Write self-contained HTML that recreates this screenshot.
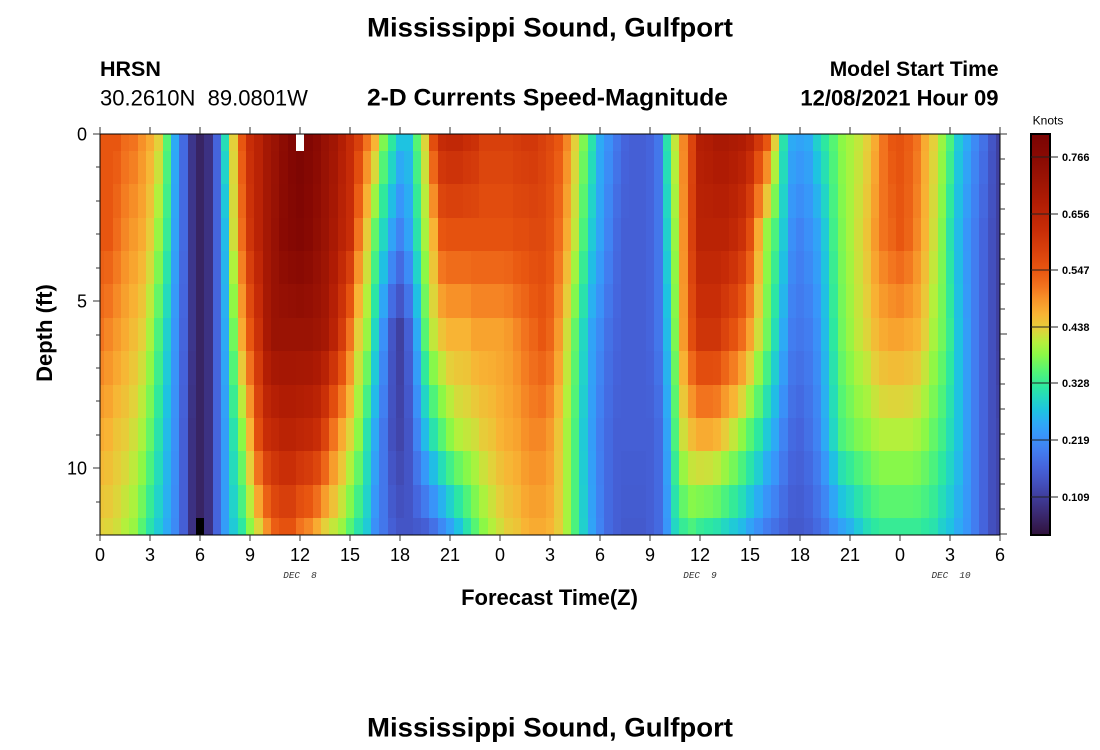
<!DOCTYPE html>
<html>
<head>
<meta charset="utf-8">
<style>
html,body{margin:0;padding:0;background:#fff;}
body{width:1100px;height:750px;overflow:hidden;}
svg{display:block;}
.s{font-family:"Liberation Sans",Arial,sans-serif;fill:#000;}
.b{font-weight:bold;}
.m{font-family:"Liberation Mono","Courier New",monospace;font-style:italic;fill:#333;}
</style>
</head>
<body>
<svg id="svg" width="1100" height="750" viewBox="0 0 1100 750" xmlns="http://www.w3.org/2000/svg">
<defs>
<linearGradient id="cb" x1="0" y1="1" x2="0" y2="0">
<stop offset="0" stop-color="rgb(48,18,59)"/>
<stop offset="0.05" stop-color="rgb(58,40,110)"/>
<stop offset="0.09" stop-color="rgb(62,58,150)"/>
<stop offset="0.13" stop-color="rgb(67,80,190)"/>
<stop offset="0.17" stop-color="rgb(69,100,220)"/>
<stop offset="0.21" stop-color="rgb(66,125,240)"/>
<stop offset="0.25" stop-color="rgb(56,150,250)"/>
<stop offset="0.28" stop-color="rgb(45,170,245)"/>
<stop offset="0.31" stop-color="rgb(30,195,225)"/>
<stop offset="0.34" stop-color="rgb(35,215,195)"/>
<stop offset="0.37" stop-color="rgb(45,232,160)"/>
<stop offset="0.41" stop-color="rgb(85,245,115)"/>
<stop offset="0.45" stop-color="rgb(140,248,70)"/>
<stop offset="0.48" stop-color="rgb(180,240,60)"/>
<stop offset="0.515" stop-color="rgb(228,208,58)"/>
<stop offset="0.55" stop-color="rgb(248,180,52)"/>
<stop offset="0.59" stop-color="rgb(247,145,40)"/>
<stop offset="0.62" stop-color="rgb(242,115,30)"/>
<stop offset="0.66" stop-color="rgb(232,86,16)"/>
<stop offset="0.71" stop-color="rgb(216,64,12)"/>
<stop offset="0.76" stop-color="rgb(200,45,7)"/>
<stop offset="0.83" stop-color="rgb(176,28,4)"/>
<stop offset="0.89" stop-color="rgb(154,19,4)"/>
<stop offset="0.94" stop-color="rgb(138,10,3)"/>
<stop offset="1" stop-color="rgb(122,4,3)"/>
</linearGradient>
</defs>

<!-- titles -->
<text class="s b" x="550" y="36.5" text-anchor="middle" font-size="27" textLength="366" lengthAdjust="spacingAndGlyphs">Mississippi Sound, Gulfport</text>
<text class="s b" x="100" y="76" font-size="21.5">HRSN</text>
<text class="s" x="100" y="105.5" font-size="22" xml:space="preserve">30.2610N  89.0801W</text>
<text class="s b" x="367" y="105.5" font-size="24.5" textLength="361" lengthAdjust="spacingAndGlyphs">2-D Currents Speed-Magnitude</text>
<text class="s b" x="998.5" y="76" text-anchor="end" font-size="21">Model Start Time</text>
<text class="s b" x="998.5" y="105.5" text-anchor="end" font-size="22">12/08/2021 Hour 09</text>

<!-- heatmap -->
<g id="hm" shape-rendering="crispEdges"></g>
<rect x="296" y="134" width="8" height="17" fill="#fff" shape-rendering="crispEdges"/>
<rect x="196" y="518" width="8" height="17" fill="#000" shape-rendering="crispEdges"/>

<!-- frame -->
<rect x="100" y="134" width="900" height="401" fill="none" stroke="#000" stroke-width="1.2" shape-rendering="crispEdges"/>
<g id="ticks" stroke="#333" stroke-width="1.2" shape-rendering="crispEdges"></g>

<!-- y axis labels -->
<text class="s" x="87" y="140.5" text-anchor="end" font-size="18">0</text>
<text class="s" x="87" y="307.5" text-anchor="end" font-size="18">5</text>
<text class="s" x="87" y="474.5" text-anchor="end" font-size="18">10</text>
<text class="s b" transform="translate(52,333) rotate(-90)" text-anchor="middle" font-size="22">Depth (ft)</text>

<!-- x axis labels -->
<g class="s" font-size="18" text-anchor="middle">
<text x="100" y="561">0</text>
<text x="150" y="561">3</text>
<text x="200" y="561">6</text>
<text x="250" y="561">9</text>
<text x="300" y="561">12</text>
<text x="350" y="561">15</text>
<text x="400" y="561">18</text>
<text x="450" y="561">21</text>
<text x="500" y="561">0</text>
<text x="550" y="561">3</text>
<text x="600" y="561">6</text>
<text x="650" y="561">9</text>
<text x="700" y="561">12</text>
<text x="750" y="561">15</text>
<text x="800" y="561">18</text>
<text x="850" y="561">21</text>
<text x="900" y="561">0</text>
<text x="950" y="561">3</text>
<text x="1000" y="561">6</text>
</g>
<text class="m" x="300" y="578" text-anchor="middle" font-size="9.3" xml:space="preserve">DEC  8</text>
<text class="m" x="700" y="578" text-anchor="middle" font-size="9.3" xml:space="preserve">DEC  9</text>
<text class="m" x="951" y="578" text-anchor="middle" font-size="9.3" xml:space="preserve">DEC  10</text>
<text class="s b" x="549.5" y="605" text-anchor="middle" font-size="22">Forecast Time(Z)</text>

<!-- colorbar -->
<text class="s" x="1048" y="124.5" text-anchor="middle" font-size="12">Knots</text>
<rect x="1031" y="134" width="19" height="401" fill="url(#cb)" stroke="#000" stroke-width="2"/>
<g stroke="#222" stroke-width="1" shape-rendering="crispEdges">
<line x1="1031" y1="157" x2="1058" y2="157"/>
<line x1="1031" y1="214" x2="1058" y2="214"/>
<line x1="1031" y1="270" x2="1058" y2="270"/>
<line x1="1031" y1="327" x2="1058" y2="327"/>
<line x1="1031" y1="383" x2="1058" y2="383"/>
<line x1="1031" y1="440" x2="1058" y2="440"/>
<line x1="1031" y1="497" x2="1058" y2="497"/>
</g>
<g class="s b" font-size="11">
<text x="1062" y="161">0.766</text>
<text x="1062" y="218">0.656</text>
<text x="1062" y="274">0.547</text>
<text x="1062" y="331">0.438</text>
<text x="1062" y="387">0.328</text>
<text x="1062" y="444">0.219</text>
<text x="1062" y="501">0.109</text>
</g>

<!-- bottom repeated title -->
<text class="s b" x="550" y="736.5" text-anchor="middle" font-size="27" textLength="366" lengthAdjust="spacingAndGlyphs">Mississippi Sound, Gulfport</text>
</svg>

<script>
(function(){
var NS="http://www.w3.org/2000/svg";
var D=[
[.66,.66,.62,.56,.515],[.66,.66,.60,.55,.51],[.66,.63,.58,.53,.50],[.63,.60,.56,.52,.48],
[.62,.58,.54,.50,.46],[.59,.56,.515,.47,.41],[.56,.52,.47,.42,.36],[.515,.46,.40,.36,.32],
[.41,.38,.33,.30,.28],[.28,.27,.25,.24,.23],[.18,.18,.17,.16,.16],[.08,.08,.08,.07,.07],
[.04,.04,.04,.04,.04],[.07,.07,.07,.07,.07],[.17,.17,.17,.17,.17],[.35,.30,.28,.26,.26],
[.515,.50,.43,.36,.32],[.66,.63,.56,.45,.37],[.76,.74,.66,.55,.45],[.80,.80,.75,.68,.51],
[.86,.86,.85,.76,.59],[.89,.90,.89,.78,.65],[.93,.94,.89,.80,.67],[.97,.96,.89,.80,.67],
[.99,.97,.89,.79,.62],[.97,.95,.89,.78,.60],[.94,.92,.88,.76,.56],[.90,.89,.86,.70,.515],
[.87,.85,.80,.62,.49],[.82,.80,.72,.56,.46],[.77,.76,.62,.51,.41],[.71,.62,.515,.45,.36],
[.62,.52,.46,.36,.32],[.55,.42,.34,.28,.24],[.44,.34,.24,.20,.20],[.37,.27,.14,.13,.16],
[.31,.22,.10,.11,.14],[.31,.27,.16,.14,.14],[.41,.36,.28,.22,.15],[.51,.47,.41,.30,.16],
[.68,.55,.49,.36,.19],[.77,.66,.53,.41,.23],[.78,.67,.55,.45,.27],[.78,.67,.55,.48,.31],
[.76,.67,.55,.49,.36],[.75,.67,.57,.50,.41],[.71,.67,.57,.52,.45],[.71,.67,.57,.53,.48],
[.71,.67,.57,.55,.50],[.71,.67,.58,.56,.52],[.72,.68,.60,.57,.53],[.73,.68,.62,.59,.55],
[.73,.69,.64,.60,.56],[.71,.69,.66,.60,.56],[.69,.67,.64,.58,.55],[.66,.63,.58,.53,.52],
[.60,.56,.50,.47,.47],[.515,.49,.42,.40,.40],[.44,.40,.34,.32,.33],[.36,.32,.27,.26,.27],
[.28,.27,.23,.21,.22],[.24,.22,.19,.18,.18],[.20,.18,.17,.16,.16],[.17,.16,.16,.16,.15],
[.16,.16,.16,.16,.15],[.16,.16,.16,.16,.15],[.17,.17,.17,.16,.16],[.20,.20,.20,.18,.18],
[.36,.33,.30,.27,.25],[.49,.46,.44,.40,.34],[.60,.59,.58,.50,.38],[.70,.71,.68,.54,.40],
[.82,.80,.74,.56,.38],[.83,.80,.74,.56,.37],[.85,.80,.74,.55,.36],[.85,.80,.70,.52,.34],
[.84,.78,.67,.49,.32],[.83,.75,.63,.45,.30],[.80,.68,.57,.41,.27],[.73,.56,.50,.37,.24],
[.66,.46,.43,.32,.21],[.515,.40,.35,.28,.19],[.36,.32,.28,.22,.17],[.28,.24,.21,.18,.15],
[.27,.22,.20,.17,.15],[.28,.24,.21,.19,.16],[.33,.27,.24,.22,.18],[.37,.32,.30,.28,.20],
[.41,.39,.37,.34,.24],[.45,.44,.43,.40,.27],[.47,.47,.46,.42,.29],[.49,.50,.49,.44,.32],
[.515,.53,.51,.45,.35],[.56,.58,.54,.47,.37],[.62,.62,.56,.48,.38],[.66,.64,.57,.48,.38],
[.67,.66,.57,.48,.38],[.65,.64,.56,.48,.38],[.62,.60,.55,.47,.38],[.56,.55,.515,.45,.37],
[.515,.50,.47,.42,.36],[.46,.44,.43,.39,.33],[.40,.36,.38,.35,.31],[.32,.30,.31,.31,.28],
[.28,.25,.26,.26,.25],[.23,.21,.21,.21,.21],[.19,.17,.17,.17,.17],[.14,.13,.13,.13,.13],
[.10,.10,.10,.11,.11]
];
var CM=[[0,48,18,59],[.05,58,40,110],[.09,62,58,150],[.13,67,80,190],[.17,69,100,220],
[.21,66,125,240],[.25,56,150,250],[.28,45,170,245],[.31,30,195,225],[.34,35,215,195],
[.37,45,232,160],[.41,85,245,115],[.45,140,248,70],[.48,180,240,60],[.515,228,208,58],
[.55,248,180,52],[.59,247,145,40],[.62,242,115,30],[.66,232,86,16],[.71,216,64,12],
[.76,200,45,7],[.83,176,28,4],[.89,154,19,4],[.94,138,10,3],[1,122,4,3]];
function col(v){
  if(v<=0)v=0; if(v>=1)v=1;
  for(var i=0;i<CM.length-1;i++){
    var a=CM[i],b=CM[i+1];
    if(v>=a[0]&&v<=b[0]){
      var f=(v-a[0])/(b[0]-a[0]);
      return "rgb("+Math.round(a[1]+(b[1]-a[1])*f)+","+Math.round(a[2]+(b[2]-a[2])*f)+","+Math.round(a[3]+(b[3]-a[3])*f)+")";
    }
  }
  return "rgb(122,4,3)";
}
function xb(k){var x=100+(k-0.5)*900/108; if(x<100)x=100; if(x>1000)x=1000; return Math.round(x);}
function yb(r){var y=134+(r-0.5)*401/12; if(y<134)y=134; if(y>535)y=535; return Math.round(y);}
var g=document.getElementById("hm");
for(var k=0;k<=108;k++){
  var a=D[k];
  var x0=xb(k),x1=xb(k+1);
  for(var r=0;r<=12;r++){
    var i=Math.floor(r/3), f=(r%3)/3, v;
    if(i>=4){v=a[4];}else{v=a[i]*(1-f)+a[i+1]*f;}
    var y0=yb(r),y1=yb(r+1);
    var e=document.createElementNS(NS,"rect");
    e.setAttribute("x",x0);e.setAttribute("y",y0);
    e.setAttribute("width",x1-x0);e.setAttribute("height",y1-y0);
    e.setAttribute("fill",col(v));
    g.appendChild(e);
  }
}
var t=document.getElementById("ticks");
function ln(x1,y1,x2,y2){var l=document.createElementNS(NS,"line");
  l.setAttribute("x1",x1);l.setAttribute("y1",y1);l.setAttribute("x2",x2);l.setAttribute("y2",y2);t.appendChild(l);}
for(var d=0;d<=12;d++){
  var y=Math.round(134+d*401/12);
  var len=(d%5==0)?7:4;
  ln(100-len,y,100,y);
}
for(var j=0;j<=16;j++){
  var y2=134+j*25;
  ln(1000,y2,1000+((j%8==0)?7:5),y2);
}
for(var h=0;h<=18;h++){
  var x=100+h*50;
  ln(x,127,x,134);
  ln(x,535,x,541);
}
})();
</script>
</body>
</html>
